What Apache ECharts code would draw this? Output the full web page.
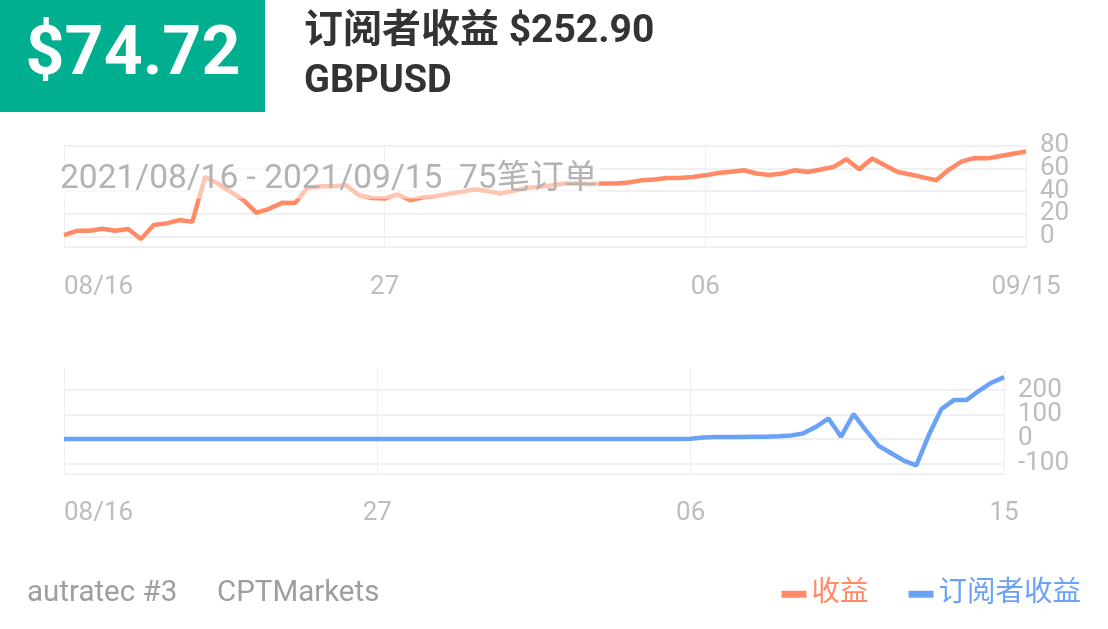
<!DOCTYPE html>
<html>
<head>
<meta charset="utf-8">
<script src="https://cdn.jsdelivr.net/npm/echarts@6/dist/echarts.min.js"></script>
<style>
html,body{margin:0;padding:0;background:#fff;}
#chart{width:1108px;height:629px;}
</style>
</head>
<body>
<div id="chart"></div>
<script>
// ---- data ----
const profit = [1.5, 5.2, 5.2, 7, 5.2, 6.7, -2, 10.2, 11.7, 14.6,
  13.1, 52.4, 46.6, 39.3, 32, 21, 24.5, 29.7, 29.5, 43,
  44.3, 44.3, 45.2, 36.4, 34, 33.5, 37, 32, 34.5, 35.5,
  37.7, 39.3, 41.5, 40, 37.9, 40, 42.8, 43.7, 45, 46.6,
  46.6, 46, 46.6, 46.6, 47.5, 49.4, 50.2, 51.5, 51.5, 52.3,
  53.8, 55.9, 57, 58.3, 55.4, 54.2, 55.4, 58.3, 56.8, 58.9,
  61.2, 67.9, 59.1, 68.5, 62.6, 56.8, 54.5, 52, 49.5, 58.9,
  66.1, 69, 68.7, 70.7, 72.8, 74.72];
const subscriberProfit = [0, 0, 0, 0, 0, 0, 0, 0, 0, 0,
  0, 0, 0, 0, 0, 0, 0, 0, 0, 0,
  0, 0, 0, 0, 0, 0, 0, 0, 0, 0,
  0, 0, 0, 0, 0, 0, 0, 0, 0, 0,
  0, 0, 0, 0, 0, 0, 0, 0, 0, 0,
  1, 6, 8, 8, 8.5, 9, 9.5, 11, 14, 23,
  50, 84, 9.5, 102, 34, -28, -58, -88, -108, 16,
  122, 159, 159, 197, 230, 252.9];
const categories = profit.map((_, i) => String(i + 1));
const xTickLabelsTop = ['08/16', '27', '06', '09/15'];
const xTickLabelsBottom = ['08/16', '27', '06', '15'];
const seriesNames = ['收益', '订阅者收益'];
const headerValue = '$74.72';
const headerTitle = '订阅者收益 $252.90';
const symbolName = 'GBPUSD';
const periodText = '2021/08/16 - 2021/09/15  75笔订单';
const footerAccount = 'autratec #3';
const footerBroker = 'CPTMarkets';

const ORANGE = '#FF8A65';
const BLUE = '#6AA2F8';
const FONT = 'Roboto, "Noto Sans CJK SC", sans-serif';
const LABEL_GREY = '#bdbdbd';

function tickFormatter(labels) {
  return function (v, idx) {
    const step = 25;
    if (idx % step === 0) return labels[idx / step] || '';
    return '';
  };
}

const chart = echarts.init(document.getElementById('chart'), null, {renderer: 'canvas'});
const xCommon = {
  type: 'category',
  boundaryGap: false,
  data: categories,
  axisLine: {show: false},
  axisTick: {show: false},
  splitLine: {show: true, interval: 24, lineStyle: {color: '#eeeeee', width: 1}},
};
const yCommon = {
  type: 'value',
  position: 'right',
  axisLine: {show: false},
  axisTick: {show: false},
  splitLine: {show: true, lineStyle: {color: '#f0f0f0', width: 2}},
};

chart.setOption({
  animation: false,
  textStyle: {fontFamily: FONT},
  grid: [
    {left: 64, right: 82, top: 145, height: 102, containLabel: false},
    {left: 64, right: 104, top: 368, height: 106, containLabel: false}
  ],
  xAxis: [
    Object.assign({}, xCommon, {
      gridIndex: 0,
      axisLabel: {interval: 24, margin: 27, fontSize: 26, color: LABEL_GREY, fontFamily: FONT,
        alignMinLabel: 'left', formatter: tickFormatter(xTickLabelsTop)}
    }),
    Object.assign({}, xCommon, {
      gridIndex: 1,
      axisLabel: {interval: 24, margin: 26, fontSize: 26, color: LABEL_GREY, fontFamily: FONT,
        alignMinLabel: 'left', formatter: tickFormatter(xTickLabelsBottom)}
    })
  ],
  yAxis: [
    Object.assign({}, yCommon, {
      gridIndex: 0, min: -9, max: 80.4, splitNumber: 5,
      splitLine: {show: true, showMaxLine: false, lineStyle: {color: '#f0f0f0', width: 2}},
      axisLabel: {margin: 14, fontSize: 26, lineHeight: 20, color: LABEL_GREY, fontFamily: FONT,
        hideOverlap: false,
        formatter: v => (Math.abs(v % 20) < 1e-6 ? String(v) : '')}
    }),
    Object.assign({}, yCommon, {
      gridIndex: 1, min: -143, max: 290, splitNumber: 5,
      splitLine: {show: true, showMaxLine: false, lineStyle: {color: '#f0f0f0', width: 2}},
      axisLabel: {margin: 14, fontSize: 26, lineHeight: 22, color: LABEL_GREY, fontFamily: FONT,
        hideOverlap: false,
        formatter: v => (Math.abs(v % 100) < 1e-6 ? String(v) : '')}
    })
  ],
  legend: {
    right: 27, top: 580, padding: 0,
    icon: 'rect', itemWidth: 25, itemHeight: 7, itemGap: 40,
    textStyle: {fontSize: 28.5, fontFamily: FONT},
    data: [
      {name: seriesNames[0], textStyle: {color: ORANGE}},
      {name: seriesNames[1], textStyle: {color: BLUE}}
    ]
  },
  series: [
    {name: seriesNames[0], type: 'line', xAxisIndex: 0, yAxisIndex: 0, data: profit,
      symbol: 'none', color: ORANGE, lineStyle: {width: 4.5, color: ORANGE}, z: 3},
    {name: seriesNames[1], type: 'line', xAxisIndex: 1, yAxisIndex: 1, data: subscriberProfit,
      symbol: 'none', color: BLUE, lineStyle: {width: 4.5, color: BLUE}, z: 3}
  ],
  graphic: [
    {type: 'rect', left: 0, top: 0, z: 10, shape: {width: 265, height: 112}, style: {fill: '#00AF8F'}},
    {type: 'text', z: 11, x: 133, y: 57, style: {text: headerValue, fill: '#ffffff',
      font: 'bold 68px ' + FONT, textAlign: 'center', textVerticalAlign: 'middle'}},
    {type: 'text', z: 11, x: 304, y: 32, style: {text: headerTitle, fill: '#333333',
      font: 'bold 39px ' + FONT, textAlign: 'left', textVerticalAlign: 'middle'}},
    {type: 'text', z: 11, x: 304, y: 82, style: {text: symbolName, fill: '#333333',
      font: 'bold 38px ' + FONT, textAlign: 'left', textVerticalAlign: 'middle'}},
    {type: 'text', z: 100, x: 58, y: 180, style: {text: periodText, fill: '#b3b3b3',
      font: '33.5px ' + FONT, textAlign: 'left', textVerticalAlign: 'middle',
      backgroundColor: 'rgba(255,255,255,0.5)', padding: [2, 2, 2, 2]}},
    {type: 'text', z: 11, x: 27, y: 594, style: {text: footerAccount, fill: '#9e9e9e',
      font: '29.5px ' + FONT, textAlign: 'left', textVerticalAlign: 'middle'}},
    {type: 'text', z: 11, x: 217, y: 594, style: {text: footerBroker, fill: '#9e9e9e',
      font: '29.5px ' + FONT, textAlign: 'left', textVerticalAlign: 'middle'}}
  ]
});
</script>
</body>
</html>
